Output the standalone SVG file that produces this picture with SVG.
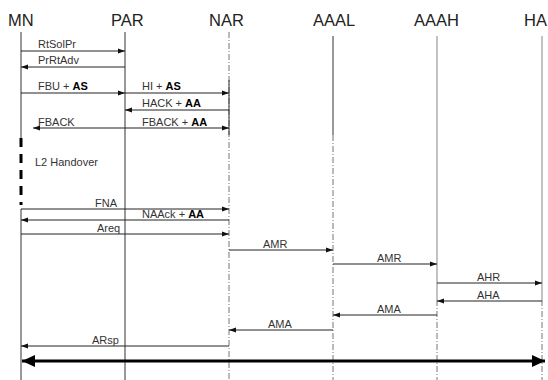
<svg xmlns="http://www.w3.org/2000/svg" width="548" height="380" viewBox="0 0 548 380">
<style>
.hdr{font-family:"Liberation Sans",Arial,sans-serif;font-size:16.5px;fill:#222}
.lbl{font-family:"Liberation Sans",Arial,sans-serif;font-size:11px;fill:#333}
.b{font-weight:bold;fill:#000}
.life{stroke:#333;stroke-width:1;fill:none}
.lifeg{stroke:#999;stroke-width:1.2;fill:none}
.dash{stroke:#777;stroke-width:1;stroke-dasharray:6 2 1 2;fill:none}
.msg{stroke:#222;stroke-width:1;fill:none}
</style>
<defs>
<marker id="ah" markerWidth="8" markerHeight="6" refX="7" refY="3" orient="auto" markerUnits="userSpaceOnUse">
<path d="M0,0.5 L7,3 L0,5.5 Z" fill="#111"/>
</marker>
<marker id="big" markerWidth="14" markerHeight="12" refX="13" refY="6" orient="auto-start-reverse" markerUnits="userSpaceOnUse">
<path d="M0,0 L13,6 L0,12 Z" fill="#000"/>
</marker>
</defs>
<rect width="548" height="380" fill="#fff"/>
<g id="MN"><text class="hdr" x="8" y="26">MN</text>
<line class="life" x1="21" y1="32" x2="21" y2="138"/>
<line x1="21" y1="138" x2="21" y2="205" stroke="#000" stroke-width="3" stroke-dasharray="9 7"/>
<line class="life" x1="21" y1="209" x2="21" y2="380"/></g>
<g id="PAR"><text class="hdr" x="111" y="26">PAR</text>
<line class="life" x1="125" y1="32" x2="125" y2="380"/></g>
<g id="NAR"><text class="hdr" x="209" y="26">NAR</text>
<line class="dash" x1="229" y1="32" x2="229" y2="380"/>
<line class="life" x1="229" y1="80" x2="229" y2="135"/></g>
<g id="AAAL"><text class="hdr" x="313" y="26">AAAL</text>
<line class="life" x1="333" y1="36" x2="333" y2="135"/>
<line class="dash" x1="333" y1="135" x2="333" y2="380"/></g>
<g id="AAAH"><text class="hdr" x="414" y="26">AAAH</text>
<line class="lifeg" x1="437" y1="36" x2="437" y2="300"/>
<line class="dash" x1="437" y1="300" x2="437" y2="380"/></g>
<g id="HA"><text class="hdr" x="524" y="26">HA</text>
<line class="lifeg" x1="542" y1="36" x2="542" y2="300"/>
<line class="dash" x1="542" y1="300" x2="542" y2="380"/></g>
<g id="L2"><text class="lbl" x="35" y="166">L2 Handover</text></g>
<g id="connectors">
<line class="msg" x1="21" y1="51" x2="125" y2="51" marker-end="url(#ah)"/>
<line class="msg" x1="125" y1="67" x2="21" y2="67" marker-end="url(#ah)"/>
<line class="msg" x1="21" y1="93" x2="125" y2="93" marker-end="url(#ah)"/>
<line class="msg" x1="125" y1="93" x2="229" y2="93" marker-end="url(#ah)"/>
<line class="msg" x1="229" y1="110" x2="125" y2="110" marker-end="url(#ah)"/>
<line class="msg" x1="125" y1="128" x2="33" y2="128" marker-end="url(#ah)"/>
<line class="msg" x1="125" y1="128" x2="229" y2="128" marker-end="url(#ah)"/>
<line class="msg" x1="21" y1="209" x2="229" y2="209" marker-end="url(#ah)"/>
<line class="msg" x1="229" y1="220" x2="21" y2="220" marker-end="url(#ah)"/>
<line class="msg" x1="21" y1="234" x2="229" y2="234" marker-end="url(#ah)"/>
<line class="msg" x1="229" y1="250" x2="333" y2="250" marker-end="url(#ah)"/>
<line class="msg" x1="333" y1="264" x2="437" y2="264" marker-end="url(#ah)"/>
<line class="msg" x1="437" y1="283" x2="542" y2="283" marker-end="url(#ah)"/>
<line class="msg" x1="542" y1="301" x2="437" y2="301" marker-end="url(#ah)"/>
<line class="msg" x1="437" y1="315" x2="333" y2="315" marker-end="url(#ah)"/>
<line class="msg" x1="333" y1="330" x2="229" y2="330" marker-end="url(#ah)"/>
<line class="msg" x1="229" y1="346" x2="21" y2="346" marker-end="url(#ah)"/>
<line x1="22" y1="361" x2="545" y2="361" stroke="#000" stroke-width="3" marker-start="url(#big)" marker-end="url(#big)"/>
</g>
<g id="labels">
<text class="lbl" x="38" y="48">RtSolPr</text>
<text class="lbl" x="38" y="64">PrRtAdv</text>
<text class="lbl" x="38" y="90">FBU + <tspan class="b">AS</tspan></text>
<text class="lbl" x="142" y="90">HI + <tspan class="b">AS</tspan></text>
<text class="lbl" x="142" y="107">HACK + <tspan class="b">AA</tspan></text>
<text class="lbl" x="38" y="126">FBACK</text>
<text class="lbl" x="142" y="126">FBACK + <tspan class="b">AA</tspan></text>
<text class="lbl" x="95" y="207">FNA</text>
<text class="lbl" x="142" y="218">NAAck + <tspan class="b">AA</tspan></text>
<text class="lbl" x="97" y="232">Areq</text>
<text class="lbl" x="263" y="248">AMR</text>
<text class="lbl" x="377" y="262">AMR</text>
<text class="lbl" x="477" y="281">AHR</text>
<text class="lbl" x="477" y="299">AHA</text>
<text class="lbl" x="377" y="313">AMA</text>
<text class="lbl" x="268" y="328">AMA</text>
<text class="lbl" x="92" y="344">ARsp</text>
</g>
</svg>
